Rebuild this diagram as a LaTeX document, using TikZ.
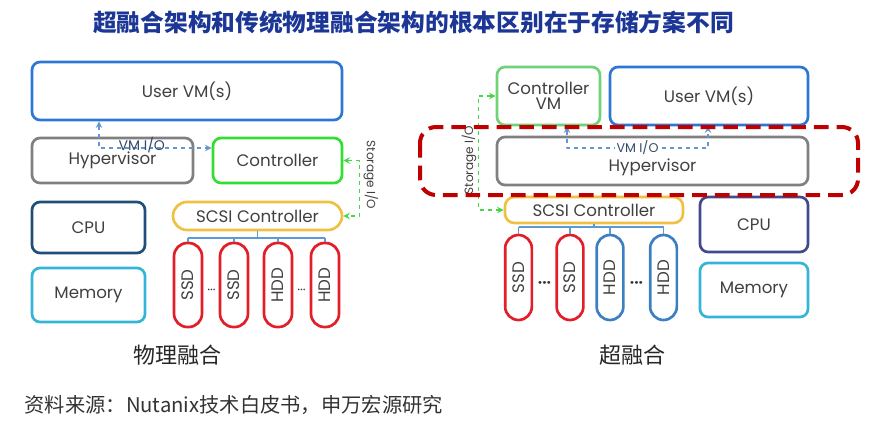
\documentclass[tikz,border=0pt]{standalone}
\usepackage{fontspec}
\setmainfont{Poppins}
\newfontfamily\cjk{Noto Sans CJK SC}
\definecolor{titleblue}{RGB}{28,54,150}
\definecolor{txtgray}{RGB}{64,64,64}
\definecolor{uvmblue}{RGB}{46,118,212}
\definecolor{hypgray}{RGB}{128,128,128}
\definecolor{ctrlgreen}{RGB}{50,222,50}
\definecolor{cvmgreen}{RGB}{110,210,120}
\definecolor{scsiyellow}{RGB}{240,192,64}
\definecolor{cpublue}{RGB}{30,78,121}
\definecolor{cpuindigo}{RGB}{64,74,140}
\definecolor{memcyan}{RGB}{52,180,214}
\definecolor{diskred}{RGB}{226,30,40}
\definecolor{diskblue}{RGB}{60,128,194}
\definecolor{busblue}{RGB}{91,155,213}
\definecolor{vioblue}{RGB}{100,150,210}
\definecolor{siogreen}{RGB}{70,215,70}
\definecolor{framered}{RGB}{192,0,0}
\begin{document}
\begin{tikzpicture}[x=0.75pt,y=-0.75pt,line join=round,>=stealth]
	\tikzset{every node/.style={text=txtgray,font=\fontsize{12.5}{14}\selectfont},
		box/.style={draw=#1,line width=2pt,rounded corners=6pt,inner sep=0pt},
		disk/.style={draw=#1,line width=2pt,rounded corners=10pt,rotate=90,minimum width=63pt,minimum height=21pt,inner sep=0pt},
		bus/.style={draw=busblue,line width=1.1pt},
		vio/.style={draw=vioblue,dashed,line width=1.2pt},
		sio/.style={draw=siogreen,dashed,line width=1.2pt},
		vlab/.style={text=vioblue!50!black,font=\fontsize{9.5}{10}\selectfont,inner sep=1pt},
		slab/.style={font=\fontsize{9}{10}\selectfont},
		dots/.style={font=\fontsize{10}{10}\selectfont,text=black!80},
		panelcap/.style={text=black!85,font=\cjk\fontsize{16.5}{18}\selectfont}}
	\useasboundingbox (0,0) rectangle (889,421);
	\node[text=titleblue,font=\cjk\bfseries\fontsize{17.8}{20}\selectfont] (title) at (413.5,22) {超融合架构和传统物理融合架构的根本区别在于存储方案不同};
	% physical
	\node[box=uvmblue,minimum width=232.5pt,minimum height=43.5pt] (uvmL) at (187,91) {User VM(s)};
	\node[box=hypgray,minimum width=120.75pt,minimum height=33.75pt] (hypL) at (112.5,160.5) {Hypervisor};
	\node[box=ctrlgreen,minimum width=96.75pt,minimum height=33.75pt] (ctrlL) at (277.5,160.5) {Controller};
	\node[box=scsiyellow,rounded corners=10.5pt,minimum width=126.75pt,minimum height=21pt] (scsiL) at (257.5,216) {SCSI Controller};
	\node[box=cpublue,minimum width=84.75pt,minimum height=38.25pt] (cpuL) at (88.5,227.5) {CPU};
	\node[box=memcyan,minimum width=84.75pt,minimum height=40.5pt] (memL) at (88.5,295) {Memory};
	\foreach \x/\t [count=\i] in {188/SSD,234/SSD,278/HDD,325/HDD}
		\node[disk=diskred] (dL\i) at (\x,285) {\t};
	\node[dots] (dotL1) at (211.5,292) {···};
	\node[dots] (dotL2) at (301.5,292) {···};
	\coordinate (busL) at (258,238);
	\draw[bus] (scsiL.south) -- (scsiL.south |- busL) (dL1.east |- busL) -- (dL4.east |- busL);
	\foreach \i in {1,...,4} \draw[bus] (dL\i.east |- busL) -- (dL\i.east);
	\draw[sio,<->] (ctrlL.east) -- ++(16,0) |- (scsiL.east);
	\node[slab,rotate=-90] (sioL) at (371,175) {Storage I/O};
	\draw[vio,<->] (uvmL.south -| 99,0) -- (99,148) -- node[vlab,pos=0.38,yshift=2.5pt,font=\fontsize{10.5}{11}\selectfont]{VM I/O} (ctrlL.west |- 0,148);
	\node[panelcap] (capL) at (177,355) {物理融合};
	% hyper-converged
	\node[box=cvmgreen,minimum width=77.25pt,minimum height=43.5pt,align=center] (cvmR) at (548.5,96) {Controller\\[-3pt]VM};
	\node[box=uvmblue,minimum width=148.5pt,minimum height=43.5pt] (uvmR) at (709,96) {User VM(s)};
	\node[box=hypgray,minimum width=233.25pt,minimum height=36pt,label={[yshift=-5pt]center:Hypervisor}] (hypR) at (652.5,161) {};
	\node[box=scsiyellow,rounded corners=7pt,minimum width=133.5pt,minimum height=19.5pt] (scsiR) at (594,210) {SCSI Controller};
	\node[box=cpuindigo,minimum width=81pt,minimum height=41.25pt] (cpuR) at (754,224.5) {CPU};
	\node[box=memcyan,minimum width=81pt,minimum height=40.5pt] (memR) at (754,290) {Memory};
	\foreach \x/\t/\c [count=\i] in {518.5/SSD/diskred,570/SSD/diskred,610/HDD/diskblue,663.5/HDD/diskblue}
		\node[disk=\c,minimum width=63.75pt,minimum height=20pt] (dR\i) at (\x,277.5) {\t};
	\node[dots,font=\bfseries\fontsize{11}{12}\selectfont] (dotR1) at (544.5,285) {···};
	\node[dots,font=\bfseries\fontsize{11}{12}\selectfont] (dotR2) at (636.5,285) {···};
	\coordinate (busR) at (595,227);
	\draw[bus] (scsiR.south) -- (scsiR.south |- busR) (dR1.east |- busR) -- (dR4.east |- busR);
	\foreach \i in {1,...,4} \draw[bus] (dR\i.east |- busR) -- (dR\i.east);
	\draw[sio,<->] (cvmR.west) -- ++(-17,0) |- (scsiR.west);
	\node[slab,rotate=90] (sioR) at (469,160) {Storage I/O};
	\draw[vio,<->] (cvmR.south -| 567,0) -- (567,148) -- node[vlab,fill=white]{VM I/O} (708,148) -- (uvmR.south -| 708,0);
	\draw[draw=framered,line width=3pt,dash pattern=on 11pt off 6pt,rounded corners=12pt] (420,127) rectangle (858,195);
	\node[panelcap] (capR) at (632,355) {超融合};
	\node[anchor=west,text=black!80,font=\cjk\fontsize{15.2}{17}\selectfont] (src) at (20,405) {资料来源：Nutanix技术白皮书，申万宏源研究};
\end{tikzpicture}
\end{document}
